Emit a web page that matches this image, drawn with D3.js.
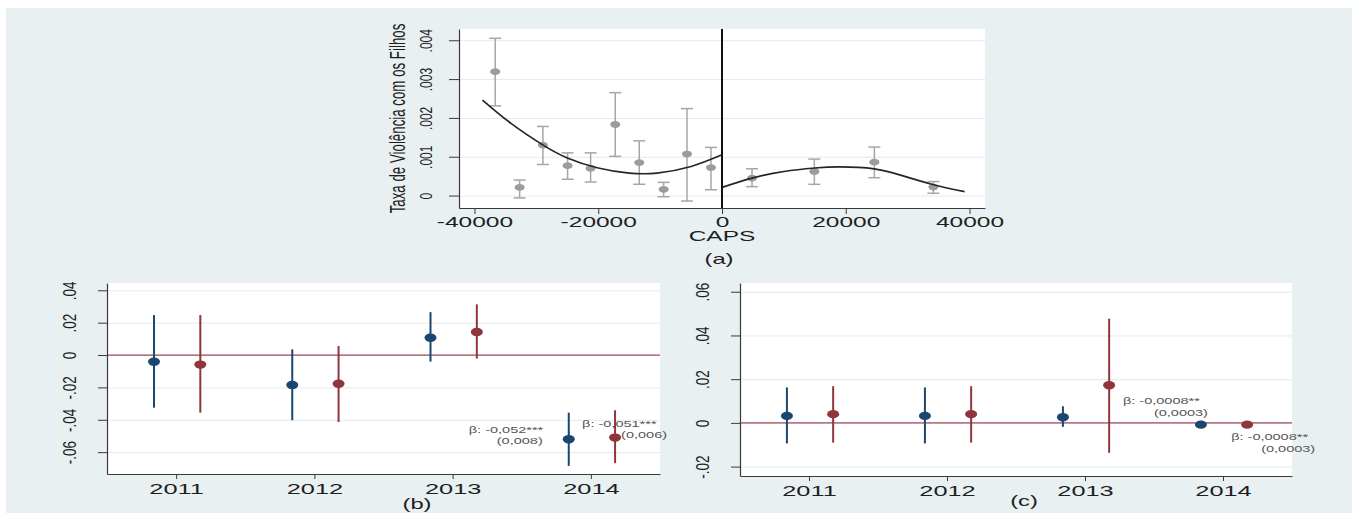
<!DOCTYPE html>
<html>
<head>
<meta charset="utf-8">
<script src="https://cdn.jsdelivr.net/npm/d3@7.9.0/dist/d3.min.js"></script>
<style>
  body { margin: 0; background: #fff; }
  svg { display: block; }
  text { font-family: "Liberation Sans", Arial, sans-serif; fill: #1e1e1e; }
</style>
</head>
<body>
<svg id="chart" width="1356" height="513"></svg>
<script>
// ---- panel (a): binned means around the cutoff, with 95% bars
const binX    = [-36650, -32700, -28940, -24950, -21230, -17250, -13370, -9430, -5660, -1780, 4850, 14920, 24620, 34160];
const binMean = [0.00319, 0.00021, 0.00130, 0.00077, 0.00070, 0.00183, 0.00085, 0.00016, 0.00107, 0.00072, 0.00045, 0.00062, 0.00086, 0.00022];
const binLo   = [0.00231, -0.00006, 0.00080, 0.00042, 0.00035, 0.00101, 0.00029, -0.00003, -0.00014, 0.00015, 0.00023, 0.00029, 0.00046, 0.00006];
const binHi   = [0.00405, 0.00040, 0.00178, 0.00110, 0.00110, 0.00265, 0.00141, 0.00034, 0.00224, 0.00124, 0.00069, 0.00094, 0.00125, 0.00036];

// fitted curves
const fitLeftX  = [-38700, -34100, -28900, -25000, -20000, -15000, -10500, -5000, 0];
const fitLeftY  = [0.00246, 0.00186, 0.00130, 0.00097, 0.00071, 0.00058, 0.00058, 0.00075, 0.00105];
const fitRightX = [0, 4850, 10000, 15000, 19000, 24600, 29000, 34200, 39200];
const fitRightY = [0.00021, 0.00045, 0.00062, 0.00071, 0.00074, 0.00069, 0.00052, 0.00028, 0.00010];

const aTicksX = [-40000, -20000, 0, 20000, 40000];
const aTicksY = [0, 0.001, 0.002, 0.003, 0.004];

// ---- panels (b) and (c): yearly coefficients
const years = [2011, 2012, 2013, 2014];

const bBlue   = [-0.0041, -0.0185, 0.0107, -0.052];
const bBlueLo = [-0.0325, -0.0403, -0.0041, -0.0685];
const bBlueHi = [0.0247, 0.0035, 0.0265, -0.0356];
const bRed    = [-0.0059, -0.0177, 0.0142, -0.051];
const bRedLo  = [-0.0356, -0.0414, -0.0022, -0.0668];
const bRedHi  = [0.0247, 0.0056, 0.0313, -0.0341];
const bTicksY = [-0.06, -0.04, -0.02, 0, 0.02, 0.04];
const bNoteBlue = ["β: -0,052***", "(0,008)"];
const bNoteRed  = ["β: -0,051***", "(0,006)"];

const cBlue   = [0.0032, 0.0032, 0.0026, -0.0008];
const cBlueLo = [-0.0094, -0.0094, -0.0018, -0.0014];
const cBlueHi = [0.0162, 0.0162, 0.0076, -0.0002];
const cRed    = [0.0040, 0.0040, 0.0172, -0.0008];
const cRedLo  = [-0.0090, -0.0090, -0.0137, -0.0014];
const cRedHi  = [0.0168, 0.0168, 0.0477, -0.0002];
const cTicksY = [-0.02, 0, 0.02, 0.04, 0.06];
const cNoteBlue = ["β: -0,0008**", "(0,0003)"];
const cNoteRed  = ["β: -0,0008**", "(0,0003)"];

const BG = "#e8f0f2";
const GRID = "#e3ebed";
const AXIS = "#3a3a3a";
const NAVY = "#1a476f";
const MAROON = "#90353b";

const svg = d3.select("#chart");
svg.append("rect").attr("x", 6).attr("y", 8).attr("width", 1346).attr("height", 505).attr("fill", BG);

// stata style numbers: .002, -.04
const stataNum = d => d === 0 ? "0" : String(+d.toFixed(4)).replace(/^(-?)0\./, "$1.");

// restyle axis labels: y labels turned vertical, x labels widened
function styleYLabels(g, gap, size, sx) {
  g.selectAll(".tick text")
    .attr("x", null).attr("dy", null)
    .attr("text-anchor", "middle")
    .style("font-size", size + "px")
    .attr("transform", `translate(${-gap},0) scale(${sx},1) rotate(-90)`);
}
function styleXLabels(g, dy, size, sx) {
  g.selectAll(".tick text")
    .attr("y", null).attr("dy", null)
    .attr("text-anchor", "middle")
    .style("font-size", size + "px")
    .attr("transform", `translate(0,${dy}) scale(${sx},1)`);
}
function styleAxis(g) {
  g.select(".domain").attr("stroke", AXIS).attr("stroke-width", 1.2);
  g.selectAll(".tick line").attr("stroke", AXIS).attr("stroke-width", 1);
}
function label(x, y, txt, size, sx) {
  svg.append("text")
    .attr("transform", `translate(${x},${y}) scale(${sx},1)`)
    .attr("text-anchor", "middle").attr("dy", "0.35em")
    .style("font-size", size + "px")
    .text(txt);
}

// ================= panel (a)
{
  const left = 459, right = 985, top = 29, bottom = 208;
  const x = d3.scaleLinear().domain([-42500, 42500]).range([left, right]);
  const y = d3.scaleLinear().domain([-0.00032, 0.00429]).range([bottom, top]);

  svg.append("rect").attr("x", left).attr("y", top)
    .attr("width", right - left).attr("height", bottom - top).attr("fill", "#fff");

  svg.append("g").attr("transform", `translate(${left},0)`)
    .call(d3.axisLeft(y).tickValues(aTicksY).tickFormat("").tickSize(-(right - left)))
    .call(g => g.select(".domain").remove())
    .call(g => g.selectAll("line").attr("stroke", GRID));

  // error bars
  const bars = svg.append("g").attr("stroke", "#a6a6a6").attr("stroke-width", 1.5);
  binX.forEach((bx, i) => {
    const cx = x(bx);
    bars.append("line").attr("x1", cx).attr("x2", cx).attr("y1", y(binLo[i])).attr("y2", y(binHi[i]));
    bars.append("line").attr("x1", cx - 6).attr("x2", cx + 6).attr("y1", y(binLo[i])).attr("y2", y(binLo[i]));
    bars.append("line").attr("x1", cx - 6).attr("x2", cx + 6).attr("y1", y(binHi[i])).attr("y2", y(binHi[i]));
  });
  svg.append("g").selectAll("ellipse").data(binX).join("ellipse")
    .attr("cx", d => x(d)).attr("cy", (d, i) => y(binMean[i]))
    .attr("rx", 5).attr("ry", 3.4).attr("fill", "#9c9c9c");

  const line = d3.line().x(d => x(d[0])).y(d => y(d[1])).curve(d3.curveNatural);
  svg.append("path").attr("d", line(d3.zip(fitLeftX, fitLeftY)))
    .attr("fill", "none").attr("stroke", "#262626").attr("stroke-width", 1.7);
  svg.append("path").attr("d", line(d3.zip(fitRightX, fitRightY)))
    .attr("fill", "none").attr("stroke", "#262626").attr("stroke-width", 1.7);

  // cutoff
  svg.append("line").attr("x1", x(0)).attr("x2", x(0)).attr("y1", top).attr("y2", bottom)
    .attr("stroke", "#111").attr("stroke-width", 2);

  svg.append("g").attr("transform", `translate(${left},0)`)
    .call(d3.axisLeft(y).tickValues(aTicksY).tickFormat(stataNum).tickSize(10).tickSizeOuter(0))
    .call(styleAxis)
    .call(g => styleYLabels(g, 27, 12, 1.3));

  svg.append("g").attr("transform", `translate(0,${bottom})`)
    .call(d3.axisBottom(x).tickValues(aTicksX).tickFormat(d => String(d)).tickSize(6).tickSizeOuter(0))
    .call(styleAxis)
    .call(g => styleXLabels(g, 18.5, 14, 1.75));

  svg.append("text")
    .attr("transform", `translate(398,${(top + bottom) / 2}) scale(1.6,1) rotate(-90)`)
    .attr("text-anchor", "middle").attr("dy", "0.35em")
    .style("font-size", "13.3px")
    .text("Taxa de Violência com os Filhos");

  label(722, 236, "CAPS", 14, 1.75);
  label(719, 259, "(a)", 14, 1.7);
}

// ================= panels (b) and (c)
function coefPanel(o) {
  const x = d3.scaleLinear().domain([2010.5, 2014.5]).range([o.left, o.right]);
  const y = d3.scaleLinear().domain(o.yDomain).range([o.bottom, o.top]);
  const offBlue = -0.16, offRed = 0.175;

  svg.append("rect").attr("x", o.left).attr("y", o.top)
    .attr("width", o.right - o.left).attr("height", o.bottom - o.top).attr("fill", "#fff");

  svg.append("g").attr("transform", `translate(${o.left},0)`)
    .call(d3.axisLeft(y).tickValues(o.ticksY).tickFormat("").tickSize(-(o.right - o.left)))
    .call(g => g.select(".domain").remove())
    .call(g => g.selectAll("line").attr("stroke", GRID));

  svg.append("line").attr("x1", o.left).attr("x2", o.right).attr("y1", y(0)).attr("y2", y(0))
    .attr("stroke", "#a24a58").attr("stroke-width", 1.2);

  const series = [
    { off: offBlue, color: NAVY, est: o.blue, lo: o.blueLo, hi: o.blueHi },
    { off: offRed, color: MAROON, est: o.red, lo: o.redLo, hi: o.redHi }
  ];
  series.forEach(s => {
    const g = svg.append("g");
    g.selectAll("line").data(years).join("line")
      .attr("x1", d => x(d + s.off)).attr("x2", d => x(d + s.off))
      .attr("y1", (d, i) => y(s.lo[i])).attr("y2", (d, i) => y(s.hi[i]))
      .attr("stroke", s.color).attr("stroke-width", 2);
    g.selectAll("ellipse").data(years).join("ellipse")
      .attr("cx", d => x(d + s.off)).attr("cy", (d, i) => y(s.est[i]))
      .attr("rx", 6).attr("ry", 4.2).attr("fill", s.color);
  });

  // beta notes next to the 2014 estimates
  const last = years.length - 1;
  const notes = [
    { lines: o.noteBlue, x: x(years[last] + offBlue), y: y(o.blue[last]), d: o.noteBlueOff },
    { lines: o.noteRed, x: x(years[last] + offRed), y: y(o.red[last]), d: o.noteRedOff }
  ];
  notes.forEach(n => {
    n.lines.forEach((t, k) => {
      svg.append("text")
        .attr("transform", `translate(${n.x + n.d[k][0]},${n.y + n.d[k][1]}) scale(1.75,1)`)
        .attr("dy", "0.35em")
        .style("font-size", "8.3px").style("fill", "#555")
        .text(t);
    });
  });

  svg.append("g").attr("transform", `translate(${o.left},0)`)
    .call(d3.axisLeft(y).tickValues(o.ticksY).tickFormat(stataNum).tickSize(9).tickSizeOuter(0))
    .call(styleAxis)
    .call(g => styleYLabels(g, 31, 13.5, 1.3));

  svg.append("g").attr("transform", `translate(0,${o.bottom})`)
    .call(d3.axisBottom(x).tickValues(years).tickFormat(d => String(d)).tickSize(5).tickSizeOuter(0))
    .call(styleAxis)
    .call(g => styleXLabels(g, 19.5, 14.5, 1.75));

  label(o.tagX, o.tagY, o.tag, 14, 1.7);
}

coefPanel({
  left: 107, right: 660, top: 283, bottom: 474,
  yDomain: [-0.0735, 0.0445], ticksY: bTicksY,
  blue: bBlue, blueLo: bBlueLo, blueHi: bBlueHi,
  red: bRed, redLo: bRedLo, redHi: bRedHi,
  noteBlue: bNoteBlue, noteRed: bNoteRed,
  noteBlueOff: [[-100, -9], [-72, 2]],
  noteRedOff: [[-33, -13], [6, -2]],
  tag: "(b)", tagX: 417, tagY: 504
});

coefPanel({
  left: 740, right: 1292, top: 283, bottom: 476,
  yDomain: [-0.0243, 0.064], ticksY: cTicksY,
  blue: cBlue, blueLo: cBlueLo, blueHi: cBlueHi,
  red: cRed, redLo: cRedLo, redHi: cRedHi,
  noteBlue: cNoteBlue, noteRed: cNoteRed,
  noteBlueOff: [[-78, -24], [-47, -12]],
  noteRedOff: [[-16, 12], [14, 24]],
  tag: "(c)", tagX: 1024, tagY: 501
});
</script>
</body>
</html>
